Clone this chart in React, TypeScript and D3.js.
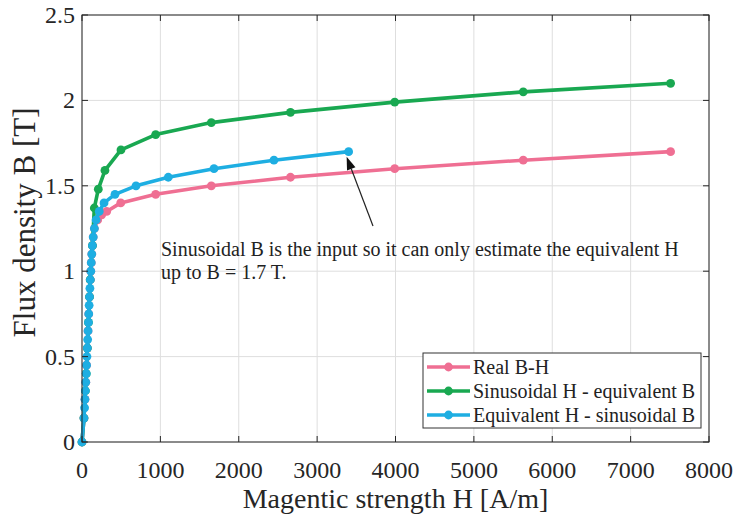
import React from 'react';
import * as d3 from 'd3';

const W = 736;
const HGT = 517;

const xTicks = [0, 1000, 2000, 3000, 4000, 5000, 6000, 7000, 8000];
const yTicks = [0, 0.5, 1, 1.5, 2, 2.5];
const yTickLabels = ['0', '0.5', '1', '1.5', '2', '2.5'];

// Real B-H
const realH = [0, 25, 38, 48, 58, 68, 77, 86, 96, 106, 112, 118, 125, 133, 143, 158, 200, 251, 315, 494, 940, 1650, 2660, 3990, 5630, 7510];
const realB = [0, 0.14, 0.25, 0.35, 0.45, 0.55, 0.65, 0.75, 0.85, 0.95, 1.0, 1.05, 1.1, 1.15, 1.2, 1.25, 1.3, 1.33, 1.35, 1.4, 1.45, 1.5, 1.55, 1.6, 1.65, 1.7];

// Sinusoidal H - equivalent B
const sinHH = [0, 25, 43, 54, 68, 82, 96, 104, 133, 157, 208, 293, 497, 940, 1650, 2660, 3990, 5630, 7510];
const sinHB = [0, 0.14, 0.3, 0.4, 0.55, 0.7, 0.85, 0.95, 1.15, 1.37, 1.48, 1.59, 1.71, 1.8, 1.87, 1.93, 1.99, 2.05, 2.1];

// Equivalent H - sinusoidal B
const eqH = [0, 25, 33, 38, 43, 48, 54, 58, 63, 68, 72, 77, 82, 86, 91, 96, 101, 106, 112, 118, 125, 133, 143, 158, 180, 220, 281, 421, 689, 1101, 1684, 2449, 3402];
const eqB = [0, 0.14, 0.2, 0.25, 0.3, 0.35, 0.4, 0.45, 0.5, 0.55, 0.6, 0.65, 0.7, 0.75, 0.8, 0.85, 0.9, 0.95, 1.0, 1.05, 1.1, 1.15, 1.2, 1.25, 1.3, 1.35, 1.4, 1.45, 1.5, 1.55, 1.6, 1.65, 1.7];

const seriesNames = ['Real B-H', 'Sinusoidal H - equivalent B', 'Equivalent H - sinusoidal B'];
const seriesColors = ['#ef6f93', '#19a851', '#1eaee2'];

const annotationLines = [
  'Sinusoidal B is the input so it can only estimate the equivalent H',
  'up to B = 1.7 T.',
];

const FONT = '"Liberation Serif", "Times New Roman", serif';

export default function App() {
  const left = 82, right = 709, top = 15, bottom = 442;
  const x = d3.scaleLinear().domain([0, 8000]).range([left, right]);
  const y = d3.scaleLinear().domain([0, 2.5]).range([bottom, top]);

  const series = [
    { h: realH, b: realB },
    { h: sinHH, b: sinHB },
    { h: eqH, b: eqB },
  ].map((s, i) => ({
    name: seriesNames[i],
    color: seriesColors[i],
    pts: s.h.map((hv, j) => [hv, s.b[j]] as [number, number]),
  }));

  const line = d3.line<[number, number]>().x(d => x(d[0])).y(d => y(d[1]));
  const tickLen = 6;
  const axisColor = '#262626';
  const gridColor = '#dedede';

  // annotation arrow: tip at last point of equivalent series
  const last = series[2].pts[series[2].pts.length - 1];
  const tipX = x(last[0]) - 2;
  const tipY = y(last[1]) + 5;
  const tailX = 373;
  const tailY = 226;
  const ang = Math.atan2(tipY - tailY, tipX - tailX);
  const aL = 13, aW = 4.5;
  const bx = tipX - aL * Math.cos(ang);
  const by = tipY - aL * Math.sin(ang);
  const arrowHead = [
    [tipX, tipY],
    [bx + aW * Math.sin(ang), by - aW * Math.cos(ang)],
    [bx - aW * Math.sin(ang), by + aW * Math.cos(ang)],
  ].map(p => p.join(',')).join(' ');

  const legX = 423, legY = 353, legW = 278, legH = 75;
  const rowY = [367, 391, 415];

  return (
    <svg width={W} height={HGT} style={{ position: 'absolute', left: 0, top: 0, background: '#fff' }} fontFamily={FONT}>
      <rect x={0} y={0} width={W} height={HGT} fill="#fff" />
      {/* grid */}
      {xTicks.map(t => (
        <line key={'gx' + t} x1={x(t)} x2={x(t)} y1={top} y2={bottom} stroke={gridColor} strokeWidth={1} />
      ))}
      {yTicks.map(t => (
        <line key={'gy' + t} x1={left} x2={right} y1={y(t)} y2={y(t)} stroke={gridColor} strokeWidth={1} />
      ))}
      {/* series */}
      {series.map(s => (
        <g key={s.name}>
          <path d={line(s.pts) || ''} fill="none" stroke={s.color} strokeWidth={3.6} strokeLinejoin="round" />
          {s.pts.map((p, j) => (
            <circle key={j} cx={x(p[0])} cy={y(p[1])} r={4.4} fill={s.color} />
          ))}
        </g>
      ))}
      {/* box */}
      <rect x={left} y={top} width={right - left} height={bottom - top} fill="none" stroke={axisColor} strokeWidth={1} />
      {xTicks.map(t => (
        <g key={'tx' + t}>
          <line x1={x(t)} x2={x(t)} y1={bottom} y2={bottom - tickLen} stroke={axisColor} />
          <line x1={x(t)} x2={x(t)} y1={top} y2={top + tickLen} stroke={axisColor} />
          <text x={x(t)} y={478} fontSize={24} textAnchor="middle" fill="#262626">{t}</text>
        </g>
      ))}
      {yTicks.map((t, i) => (
        <g key={'ty' + t}>
          <line x1={left} x2={left + tickLen} y1={y(t)} y2={y(t)} stroke={axisColor} />
          <line x1={right} x2={right - tickLen} y1={y(t)} y2={y(t)} stroke={axisColor} />
          <text x={75} y={y(t) + 8} fontSize={24} textAnchor="end" fill="#262626">{yTickLabels[i]}</text>
        </g>
      ))}
      {/* axis labels */}
      <text x={(left + right) / 2} y={508} fontSize={28} textAnchor="middle" fill="#262626">Magentic strength H [A/m]</text>
      <text transform={`translate(35, ${(top + bottom) / 2 - 6}) rotate(-90)`} fontSize={31} textAnchor="middle" fill="#262626">Flux density B [T]</text>
      {/* annotation */}
      <line x1={tailX} y1={tailY} x2={bx} y2={by} stroke="#222" strokeWidth={1.2} />
      <polygon points={arrowHead} fill="#111" />
      <text x={161} y={256} fontSize={20} fill="#222">{annotationLines[0]}</text>
      <text x={161} y={279} fontSize={20} fill="#222">{annotationLines[1]}</text>
      {/* legend */}
      <rect x={legX} y={legY} width={legW} height={legH} fill="#fff" stroke="#333" strokeWidth={1} />
      {series.map((s, i) => (
        <g key={'lg' + i}>
          <line x1={427} x2={470} y1={rowY[i]} y2={rowY[i]} stroke={s.color} strokeWidth={3.6} />
          <circle cx={448.5} cy={rowY[i]} r={4.4} fill={s.color} />
          <text x={473} y={rowY[i] + 7} fontSize={20} fill="#222">{s.name}</text>
        </g>
      ))}
    </svg>
  );
}
